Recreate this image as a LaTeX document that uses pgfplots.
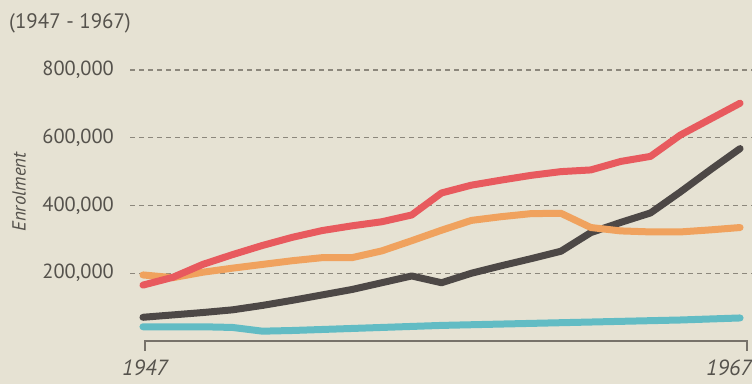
\documentclass[border=0pt]{standalone}
\usepackage{pgfplots}
\pgfplotsset{compat=1.18}
\usepackage{fontspec}
\setmainfont{PT Sans}
\definecolor{bg}{HTML}{E6E2D3}
\definecolor{txt}{HTML}{55524C}
\definecolor{gridc}{HTML}{8C877C}
\definecolor{axc}{HTML}{77726A}
\definecolor{cred}{HTML}{E85A5E}
\definecolor{corange}{HTML}{F0A25E}
\definecolor{cgray}{HTML}{4D4846}
\definecolor{ccyan}{HTML}{62BCC4}
\begin{document}
\begin{tikzpicture}
\fill[bg] (0,0) rectangle (752bp,384bp);
\begin{axis}[
  at={(130bp,43bp)}, anchor=south west,
  scale only axis, width=622bp, height=271bp,
  xmin=1946.565, xmax=1967.40, ymin=0, ymax=800000,
  clip=false,
  axis line style={draw=none},
  xtick=\empty,
  ytick={200000,400000,600000,800000},
  yticklabels={{200,000},{400,000},{600,000},{800,000}},
  yticklabel style={font=\fontsize{20.5}{22}\selectfont, text=txt, inner sep=0pt},
  yticklabel shift=16bp,
  major tick length=0pt,
  ymajorgrids,
  grid style={gridc, line width=1.1bp, dash pattern=on 5bp off 4bp},
  scaled y ticks=false,
]
\addplot[ccyan, line width=7bp, line cap=round, line join=round] coordinates {
(1947,42000)(1948,42000)(1949,42000)(1950,40000)(1951,29000)(1952,31000)(1953,34000)(1954,37000)(1955,40000)(1956,43000)(1957,46000)(1958,48000)(1959,50000)(1960,52000)(1961,54000)(1962,56000)(1963,58000)(1964,60000)(1965,62000)(1966,65000)(1967,68000)};
\addplot[cgray, line width=7bp, line cap=round, line join=round] coordinates {
(1947,70000)(1948,77000)(1949,84000)(1950,92000)(1951,105000)(1952,120000)(1953,136000)(1954,152000)(1955,172000)(1956,192000)(1957,172000)(1958,200000)(1959,222000)(1960,243000)(1961,265000)(1962,320000)(1963,350000)(1964,378000)(1965,440000)(1966,505000)(1967,568000)};
\addplot[corange, line width=7bp, line cap=round, line join=round] coordinates {
(1947,195000)(1948,187000)(1949,203000)(1950,215000)(1951,226000)(1952,237000)(1953,246000)(1954,246000)(1955,266000)(1956,296000)(1957,327000)(1958,356000)(1959,367000)(1960,376000)(1961,377000)(1962,335000)(1963,325000)(1964,322000)(1965,322000)(1966,328000)(1967,335000)};
\addplot[cred, line width=7bp, line cap=round, line join=round] coordinates {
(1947,165000)(1948,188000)(1949,226000)(1950,255000)(1951,282000)(1952,306000)(1953,326000)(1954,340000)(1955,352000)(1956,372000)(1957,437000)(1958,460000)(1959,475000)(1960,489000)(1961,500000)(1962,505000)(1963,530000)(1964,545000)(1965,608000)(1966,655000)(1967,702000)};
\end{axis}
\draw[axc, line width=1.3bp] (145bp,33bp) -- (145bp,43bp) -- (747bp,43bp) -- (747bp,33bp);
\node[font=\fontsize{22}{24}\selectfont\itshape, text=txt, anchor=north, inner sep=0pt] at (145bp,24bp) {1947};
\node[font=\fontsize{22}{24}\selectfont\itshape, text=txt, anchor=north east, inner sep=0pt] at (752bp,24bp) {1967};
\node[font=\fontsize{21}{23}\selectfont, text=txt, anchor=west, inner sep=0pt] at (9bp,361bp) {(1947 - 1967)};
\node[font=\fontsize{19}{21}\selectfont\itshape, text=txt, rotate=90, inner sep=0pt] at (19bp,192bp) {Enrolment};
\pgfresetboundingbox
\path (0,0) rectangle (752bp,384bp);
\end{tikzpicture}
\end{document}
